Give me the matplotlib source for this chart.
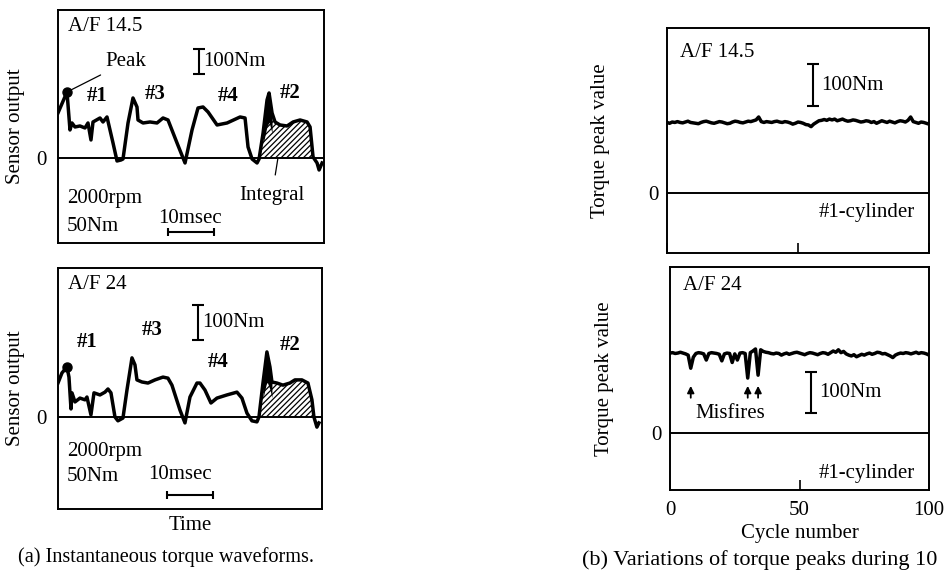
import numpy as np
import matplotlib
matplotlib.use("Agg")
import matplotlib.pyplot as plt

plt.rcParams['font.family'] = ['Liberation Serif', 'DejaVu Serif']
plt.rcParams['hatch.linewidth'] = 0.9

# (a) waveforms, time in ms, torque in Nm
t_af145 = [0, 1.96, 2.61, 3.04, 3.70, 4.78, 5.87, 6.52, 7.17, 7.61, 9.13, 9.78, 10.65,
           11.96, 12.83, 13.7, 14.13, 15.22, 16.30, 17.17, 17.39, 18.48, 20.0, 21.52,
           22.83, 23.91, 25.87, 27.61, 29.13, 30.43, 31.52, 32.61, 34.57, 36.74, 39.57,
           40.65, 41.30, 42.17, 43.26, 43.70, 44.57, 45.43, 45.87, 46.52, 47.17, 48.26,
           49.78, 51.09, 52.61, 54.13, 54.78, 55.43, 56.30, 56.74, 57.39]
tq_af145 = [180, 264, 112, 140, 124, 128, 120, 140, 72, 144, 160, 144, 164,
            60, -12, -8, -4, 140, 240, 204, 152, 140, 144, 140,
            160, 152, 60, -20, 112, 200, 204, 184, 132, 140, 164,
            160, 44, -4, -20, -4, 100, 232, 260, 180, 144, 132,
            128, 144, 152, 144, 124, 4, -20, -48, -20]

t_af24 = [0, 0.87, 1.96, 2.39, 2.83, 3.04, 3.70, 4.78, 5.87, 6.30, 7.17, 7.83, 9.13,
          10.22, 10.87, 11.52, 12.39, 13.04, 14.13, 15.0, 16.09, 16.74, 17.17, 18.26,
          19.57, 21.09, 22.83, 23.91, 24.78, 26.52, 27.61, 28.70, 30.22, 30.87, 31.96,
          33.26, 34.57, 36.74, 38.91, 40.0, 41.09, 42.17, 43.26, 43.70, 44.57, 45.43,
          46.09, 46.52, 47.61, 48.91, 50.43, 51.52, 53.04, 54.35, 55.22, 55.65, 56.30, 56.74]
tq_af24 = [97, 126, 143, 114, 23, 69, 43, 54, 49, 57, 6, 69, 63,
           71, 80, 69, 0, -11, -3, 77, 169, 149, 106, 100,
           97, 106, 114, 111, 91, 20, -17, 57, 97, 97, 77,
           40, 54, 63, 71, 54, 11, -11, -14, 0, 97, 186,
           143, 100, 97, 91, 97, 106, 106, 97, 49, 0, -29, -17]

# (b) torque peak of #1 cylinder per cycle, Nm
peaks_af145 = [168, 166, 169, 168, 170, 168, 167, 169, 171, 168,
               167, 166, 165, 168, 170, 171, 169, 167, 166, 168,
               170, 169, 167, 165, 166, 169, 171, 170, 168, 167,
               169, 171, 170, 172, 174, 181, 170, 168, 170, 169,
               168, 170, 171, 169, 168, 170, 169, 167, 164, 166,
               169, 168, 166, 163, 162, 158, 164, 168, 172, 173,
               175, 173, 176, 174, 176, 172, 174, 176, 173, 171,
               172, 174, 173, 171, 169, 170, 172, 171, 168, 170,
               166, 169, 172, 170, 168, 171, 169, 167, 170, 172,
               171, 169, 173, 181, 170, 168, 166, 169, 168, 166,
               164]
peaks_af24 = [195, 196, 194, 195, 197, 195, 193, 190, 158, 185,
              194, 196, 195, 193, 178, 194, 196, 195, 194, 192,
              176, 193, 195, 194, 172, 193, 178, 195, 196, 194,
              134, 196, 200, 205, 141, 203, 199, 197, 196, 194,
              193, 195, 194, 190, 193, 195, 192, 194, 196, 197,
              195, 193, 191, 194, 196, 195, 193, 191, 194, 196,
              195, 192, 196, 200, 197, 203, 196, 199, 193, 190,
              188, 191, 186, 189, 192, 190, 193, 195, 192, 194,
              197, 196, 193, 194, 191, 188, 184, 190, 193, 195,
              194, 196, 195, 193, 195, 197, 194, 196, 195, 193,
              190]
misfire_cycles = [8, 30, 34]

LW = 2.5
FS = 15

fig = plt.figure(figsize=(9.52, 5.77), dpi=100)


def frame(ax):
    for s in ax.spines.values():
        s.set_linewidth(1.4)


def waveform_panel(ax, t, tq, xmax, ylim, af, labels, bar_y, ms_y, nm_txt):
    t = np.array(t)
    tq = np.array(tq)
    ax.plot(t, tq, color='black', lw=LW, solid_joinstyle='round')
    ax.axhline(0, color='black', lw=1.4)
    # integral of #2 cylinder
    mask = (t >= 43.7) & (t <= 55.65)
    ax.fill_between(t[mask], 0, np.clip(tq[mask], 0, None), facecolor='none',
                    edgecolor='black', hatch='//////', lw=0)
    spike = (t >= 44.57) & (t <= 46.52)
    ax.fill_between(t[spike], tq[spike] * 0.55, tq[spike], color='black', lw=0)
    ipk = int(np.argmax(tq[:5]))
    ax.plot(t[ipk], tq[ipk], 'o', color='black', ms=6.5)
    ax.set_xlim(0, xmax)
    ax.set_ylim(*ylim)
    ax.set_xticks([])
    ax.set_yticks([0])
    ax.set_yticklabels(['0'], fontsize=FS)
    ax.tick_params(axis='y', length=0, pad=8)
    ax.set_ylabel('Sensor output', fontsize=FS)
    ax.yaxis.set_label_coords(-0.124, 0.5)
    frame(ax)
    ax.text(0.038, 0.93, af, transform=ax.transAxes, fontsize=FS, va='center', ha='left')
    for lab, (x, y) in labels.items():
        ax.text(x, y, lab, transform=ax.transAxes, fontsize=FS, va='center', ha='center',
                fontweight='bold')
    # 100Nm bar
    ax.errorbar([bar_y[0]], [bar_y[1]], yerr=50, fmt='none', ecolor='black', elinewidth=1.5,
                capsize=4, capthick=1.5)
    ax.text(bar_y[0] + 1.0, bar_y[1], '100Nm', fontsize=FS, va='center', ha='left')
    # 10msec bar
    ax.errorbar([ms_y[0]], [ms_y[1]], xerr=5, fmt='none', ecolor='black', elinewidth=1.5,
                capsize=3, capthick=1.5)
    ax.text(0.034, nm_txt[0], '2000rpm', transform=ax.transAxes, fontsize=FS, va='center')
    ax.text(0.034, nm_txt[1], '50Nm', transform=ax.transAxes, fontsize=FS, va='center')
    ax.text(nm_txt[2], nm_txt[3], '10msec', transform=ax.transAxes, fontsize=FS,
            va='center', ha='center')
    return t[ipk], tq[ipk]


ax1 = fig.add_axes([0.0609, 0.5789, 0.2794, 0.4038])
pk = waveform_panel(ax1, t_af145, tq_af145, 57.8, (-340, 592), 'A/F 14.5',
                    {'#1': (0.147, 0.631), '#3': (0.365, 0.64),
                     '#4': (0.639, 0.631), '#2': (0.872, 0.644)},
                    (30.65, 386), (28.9, -296), (0.189, 0.069, 0.496, 0.107))
ax1.annotate('Peak', xy=pk, xytext=(10.4, 384), fontsize=FS, va='center', ha='left',
             arrowprops=dict(arrowstyle='-', lw=0.9, color='black', shrinkA=2, shrinkB=0))
ax1.annotate('Integral', xy=(47.8, 0), xytext=(46.5, -150), fontsize=FS, va='center',
             ha='center',
             arrowprops=dict(arrowstyle='-', lw=0.9, color='black', shrinkA=6, shrinkB=0))

ax2 = fig.add_axes([0.0609, 0.1179, 0.2773, 0.4177])
waveform_panel(ax2, t_af24, tq_af24, 57.4, (-263, 426), 'A/F 24',
               {'#1': (0.11, 0.693), '#3': (0.356, 0.743),
                '#4': (0.606, 0.61), '#2': (0.879, 0.68)},
               (30.4, 270), (28.6, -223), (0.237, 0.133, 0.462, 0.141))
ax2.set_xlabel('Time', fontsize=FS, labelpad=5)


def peak_panel(ax, vals, ylim, af, af_y, bar, cyl_y):
    cyc = np.arange(len(vals))
    ax.plot(cyc, vals, color='black', lw=LW, solid_joinstyle='round')
    ax.axhline(0, color='black', lw=1.4)
    ax.set_xlim(0, 100)
    ax.set_ylim(*ylim)
    ax.set_xticks([0, 50, 100])
    ax.tick_params(axis='x', direction='in', length=7, width=1.2)
    ax.set_yticks([0])
    ax.set_yticklabels(['0'], fontsize=FS)
    ax.tick_params(axis='y', length=0, pad=6)
    ax.set_ylabel('Torque peak value', fontsize=FS)
    ax.yaxis.set_label_coords(-0.218, 0.5)
    frame(ax)
    ax.text(0.05, af_y, af, transform=ax.transAxes, fontsize=FS, va='center')
    ax.errorbar([bar[0]], [bar[1]], yerr=50, fmt='none', ecolor='black', elinewidth=1.5,
                capsize=4, capthick=1.5)
    ax.text(bar[0] + 3.0, bar[1], '100Nm', fontsize=FS, va='center', ha='left')
    ax.text(0.945, cyl_y, '#1-cylinder', transform=ax.transAxes, fontsize=FS,
            va='center', ha='right')


ax3 = fig.add_axes([0.7006, 0.5615, 0.2752, 0.39])
peak_panel(ax3, peaks_af145, (-143, 393), 'A/F 14.5', 0.893, (55.7, 257), 0.182)
ax3.set_xticklabels([])

ax4 = fig.add_axes([0.7038, 0.1508, 0.2721, 0.3865])
peak_panel(ax4, peaks_af24, (-139, 405), 'A/F 24', 0.919, (54.4, 99), 0.076)
ax4.set_xticklabels(['0', '50', '100'], fontsize=FS)
ax4.tick_params(axis='x', pad=8)
ax4.set_xlabel('Cycle number', fontsize=FS, labelpad=3)
for c in misfire_cycles:
    ax4.annotate('', xy=(c, 115), xytext=(c, 86),
                 arrowprops=dict(arrowstyle='-|>', lw=1.3, color='black',
                                 mutation_scale=10, shrinkA=0, shrinkB=0))
ax4.text(0.232, 0.341, 'Misfires', transform=ax4.transAxes, fontsize=FS,
         va='center', ha='center')

fig.text(18 / 952, 1 - 557 / 577, '(a) Instantaneous torque waveforms.', fontsize=14.6,
         va='center', ha='left')
# the reference is cropped at the right edge, only this part is visible
fig.text(582 / 952, 1 - 560 / 577, '(b) Variations of torque peaks during 10',
         fontsize=16, va='center', ha='left')

fig.savefig('out.png', dpi=100)
